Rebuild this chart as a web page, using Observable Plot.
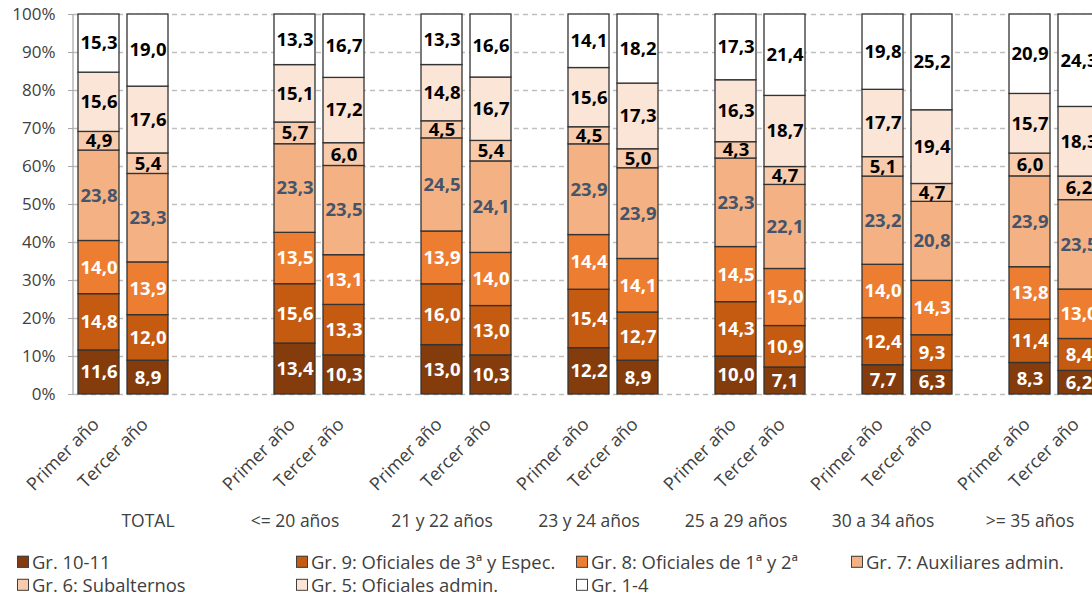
<!DOCTYPE html>
<html><head><meta charset="utf-8">
<script src="https://cdn.jsdelivr.net/npm/d3@7"></script>
<script src="https://cdn.jsdelivr.net/npm/@observablehq/plot@0.6"></script>
<style>
body{margin:0;background:#fff;overflow:hidden;font-family:"Open Sans",sans-serif;}
#wrap{position:relative;width:1092px;height:595px;overflow:hidden;background:#fff;}
#chart svg{overflow:hidden;display:block}
#legend{position:absolute;left:0;top:0;width:1092px;height:595px;pointer-events:none;}
.li{position:absolute;display:flex;align-items:center;font-size:18.4px;color:#404040;white-space:nowrap;transform:translateY(-50%);line-height:1}
.sw{width:12px;height:12px;border:1px solid #404040;margin-right:3px;box-sizing:border-box;flex:none}
</style></head>
<body><div id="wrap"><div id="chart"></div><div id="legend"></div></div>
<script>
const groups = ["TOTAL", "<= 20 años", "21 y 22 años", "23 y 24 años", "25 a 29 años", "30 a 34 años", ">= 35 años"];
const years = ["Primer año", "Tercer año"];
const seriesNames = ["Gr. 10-11", "Gr. 9: Oficiales de 3ª y Espec.", "Gr. 8: Oficiales de 1ª y 2ª", "Gr. 7: Auxiliares admin.", "Gr. 6: Subalternos", "Gr. 5: Oficiales admin.", "Gr. 1-4"];
// values per series: [group0 Primer, group0 Tercer, group1 Primer, ...]
const gr10_11 = [11.6, 8.9, 13.4, 10.3, 13.0, 10.3, 12.2, 8.9, 10.0, 7.1, 7.7, 6.3, 8.3, 6.2];
const gr9     = [14.8, 12.0, 15.6, 13.3, 16.0, 13.0, 15.4, 12.7, 14.3, 10.9, 12.4, 9.3, 11.4, 8.4];
const gr8     = [14.0, 13.9, 13.5, 13.1, 13.9, 14.0, 14.4, 14.1, 14.5, 15.0, 14.0, 14.3, 13.8, 13.0];
const gr7     = [23.8, 23.3, 23.3, 23.5, 24.5, 24.1, 23.9, 23.9, 23.3, 22.1, 23.2, 20.8, 23.9, 23.5];
const gr6     = [4.9, 5.4, 5.7, 6.0, 4.5, 5.4, 4.5, 5.0, 4.3, 4.7, 5.1, 4.7, 6.0, 6.2];
const gr5     = [15.6, 17.6, 15.1, 17.2, 14.8, 16.7, 15.6, 17.3, 16.3, 18.7, 17.7, 19.4, 15.7, 18.3];
const gr1_4   = [15.3, 19.0, 13.3, 16.7, 13.3, 16.6, 14.1, 18.2, 17.3, 21.4, 19.8, 25.2, 20.9, 24.3];
const yTicks = [0, 0.1, 0.2, 0.3, 0.4, 0.5, 0.6, 0.7, 0.8, 0.9, 1.0];

const seriesValues = [gr10_11, gr9, gr8, gr7, gr6, gr5, gr1_4];
const colors = ["#843C0C", "#C55A11", "#ED7D31", "#F4B183", "#F8CBAD", "#FBE5D6", "#FFFFFF"];
const labelColors = ["#FFFFFF", "#FFFFFF", "#FFFFFF", "#44546A", "#000000", "#000000", "#000000"];

const data = [];
seriesValues.forEach((vals, si) => groups.forEach((g, gi) => years.forEach((yr, yi) => {
  data.push({si, series: seriesNames[si], group: g, year: yr, key: g + "|" + yr, value: vals[gi * 2 + yi]});
})));

// category slots (with empty spacer slots as in the original)
const xDomain = [];
const groupMid = {};
groups.forEach((g, gi) => {
  if (gi === 0) {
    xDomain.push(g + "|" + years[0], g + "|" + years[1], "sp0a");
    groupMid[g] = g + "|" + years[1];
    xDomain.push("sp0b");
  } else {
    xDomain.push(g + "|" + years[0], g + "|" + years[1]);
    groupMid[g] = g + "|" + years[0];
    if (gi < groups.length - 1) xDomain.push("sp" + gi);
  }
});
const realKeys = xDomain.filter(k => k.includes("|"));

const step = 49.16, pad = 0.166, x0 = 78;
const fmt = v => d3.format(".1f")(v).replace(".", ",");

const axisLine = (index, scales, values, dims) => {
  const l = d3.create("svg:line")
    .attr("x1", dims.marginLeft).attr("x2", dims.marginLeft)
    .attr("y1", dims.marginTop).attr("y2", dims.height - dims.marginBottom)
    .attr("stroke", "#a6a6a6").attr("stroke-width", 1.2);
  return l.node();
};

const chart = Plot.plot({
  width: 1092, height: 545,
  marginLeft: 73, marginRight: 0, marginTop: 14, marginBottom: 151,
  style: {fontFamily: "'Open Sans', sans-serif", fontSize: "17px", color: "#404040", background: "white", overflow: "hidden"},
  x: {type: "band", domain: xDomain, range: [x0, x0 + step * (xDomain.length - pad)], paddingInner: pad, paddingOuter: 0, align: 0, axis: null},
  y: {domain: [0, 1], axis: null},
  color: {type: "identity"},
  marks: [
    Plot.gridY(yTicks, {stroke: "#bfbfbf", strokeOpacity: 1, strokeWidth: 1.3, strokeDasharray: "5,4"}),
    axisLine,
    Plot.axisY(yTicks, {tickFormat: d3.format(".0%"), tickSize: 5, tickPadding: 13, stroke: "#a6a6a6", fill: "#404040", fontSize: 17, label: null}),
    Plot.barY(data, Plot.stackY({x: "key", y: "value", z: "si", offset: "normalize", fill: d => colors[d.si], stroke: "#333", strokeWidth: 1.3})),
    Plot.text(data, Plot.stackY({x: "key", y: "value", z: "si", offset: "normalize", text: d => fmt(d.value), fill: d => labelColors[d.si], fontWeight: "bold", fontSize: 18.5})),
    Plot.axisX(realKeys, {tickFormat: k => k.split("|")[1], tickRotate: -45, tickSize: 0, tickPadding: 27, dx: -3, fill: "#404040", fontSize: 18, label: null}),
    Plot.text(groups, {x: g => groupMid[g], frameAnchor: "bottom", dy: 132, text: d => d, fill: "#404040", fontSize: 17.5})
  ]
});
document.getElementById("chart").appendChild(chart);

// legend (Excel-like 4-column layout)
const legCols = [17, 296, 576, 851];
const legRows = [562, 585];
const legend = document.getElementById("legend");
seriesNames.forEach((s, i) => {
  const item = document.createElement("div");
  item.className = "li";
  item.style.left = legCols[i % 4] + "px";
  item.style.top = legRows[Math.floor(i / 4)] + "px";
  const sw = document.createElement("span");
  sw.className = "sw";
  sw.style.background = colors[i];
  const t = document.createElement("span");
  t.textContent = s;
  item.appendChild(sw); item.appendChild(t);
  legend.appendChild(item);
});
</script>
</body></html>
